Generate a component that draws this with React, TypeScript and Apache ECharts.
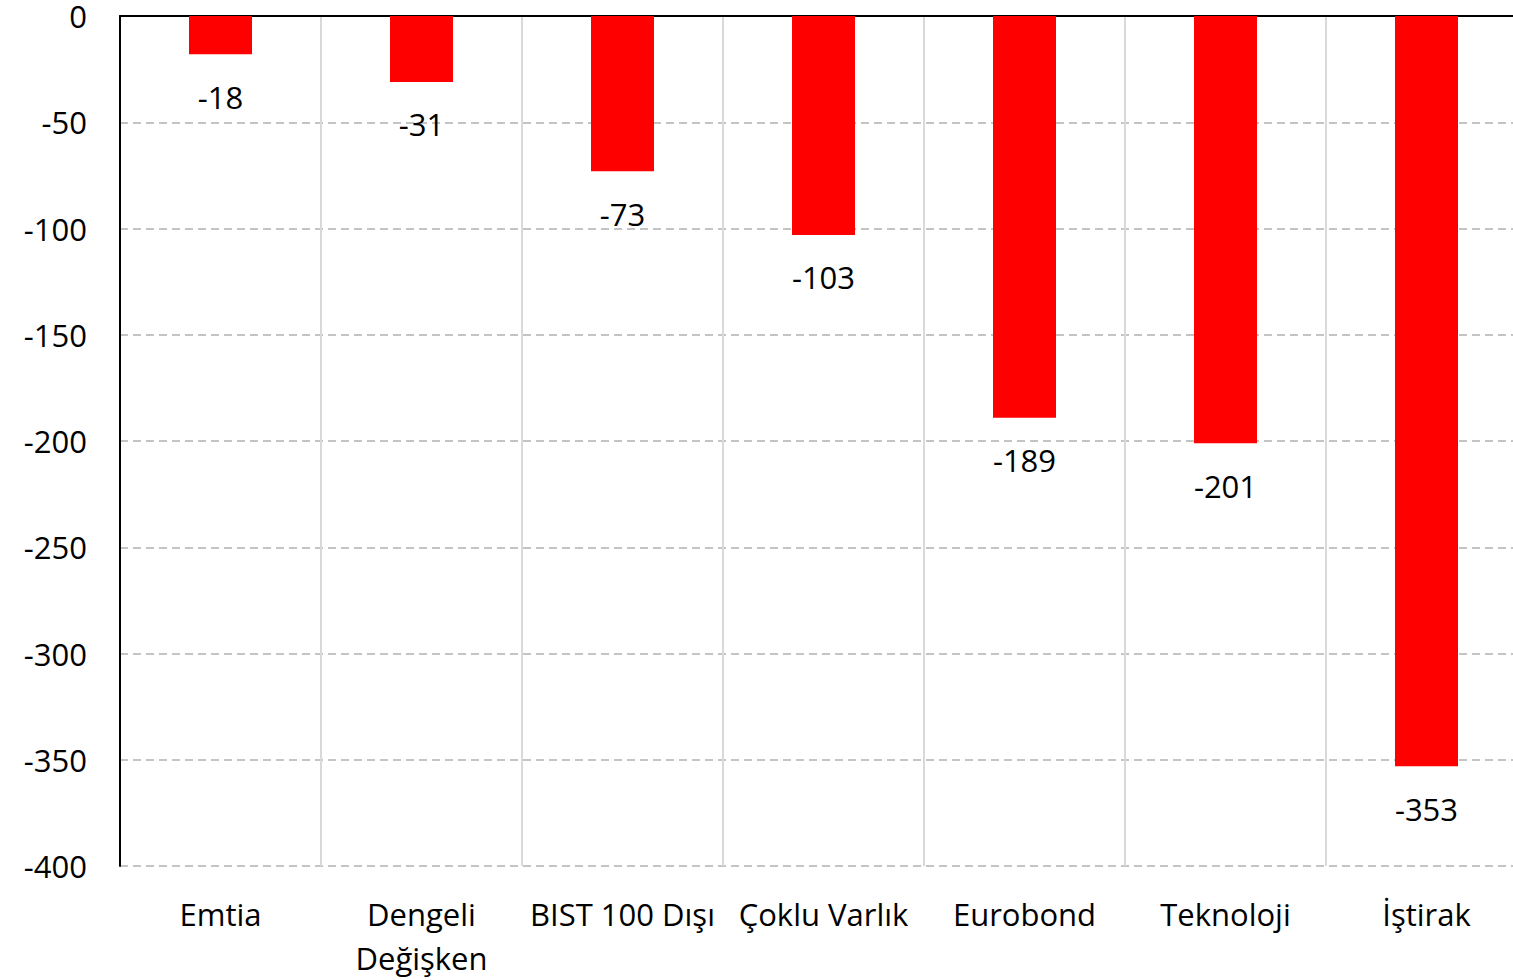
import React, { useEffect, useRef } from "react";
import * as echarts from "echarts";

const categories = ["Emtia", "Dengeli\nDeğişken", "BIST 100 Dışı", "Çoklu Varlık", "Eurobond", "Teknoloji", "İştirak"];
const values = [-18, -31, -73, -103, -189, -201, -353];

const FONT = "'Open Sans', Lato, sans-serif";

export default function App() {
  const ref = useRef<HTMLDivElement>(null);
  useEffect(() => {
    if (!ref.current) return;
    const chart = echarts.init(ref.current, undefined, { renderer: "svg" });
    chart.setOption({
      animation: false,
      textStyle: { fontFamily: FONT },
      grid: { left: 120, top: 16, width: 1407, height: 850, containLabel: false },
      xAxis: [
        {
          type: "category",
          data: categories,
          position: "bottom",
          axisLine: { show: false, onZero: false },
          axisTick: { show: false },
          splitLine: { show: true, lineStyle: { color: "#d9d9d9", width: 2, type: "solid" } },
          axisLabel: { color: "#000", fontSize: 31, fontFamily: FONT, margin: 26, lineHeight: 44, interval: 0 },
        },
        {
          type: "category",
          data: categories,
          position: "top",
          axisLine: { show: true, onZero: false, lineStyle: { color: "#000", width: 2 } },
          axisTick: { show: false },
          axisLabel: { show: false },
          splitLine: { show: false },
        },
      ],
      yAxis: {
        type: "value",
        min: -400,
        max: 0,
        interval: 50,
        axisLine: { show: true, lineStyle: { color: "#000", width: 2 } },
        axisTick: { show: false },
        axisLabel: { color: "#000", fontSize: 31, fontFamily: FONT, margin: 33, lineHeight: 30 },
        splitLine: { show: true, lineStyle: { color: "#c4c4c4", width: 2, type: [8, 5] } },
      },
      series: [
        {
          type: "bar",
          data: values,
          barWidth: 63,
          itemStyle: { color: "#ff0000" },
          label: {
            show: true,
            position: "bottom",
            distance: 27,
            color: "#000",
            fontSize: 31,
            fontFamily: FONT,
          },
        },
      ],
    });
    return () => chart.dispose();
  }, []);
  return (
    <div style={{ position: "fixed", left: 0, top: 0, width: 1513, height: 980, overflow: "hidden", background: "#fff" }}>
      <div ref={ref} style={{ width: 1545, height: 980 }} />
    </div>
  );
}
